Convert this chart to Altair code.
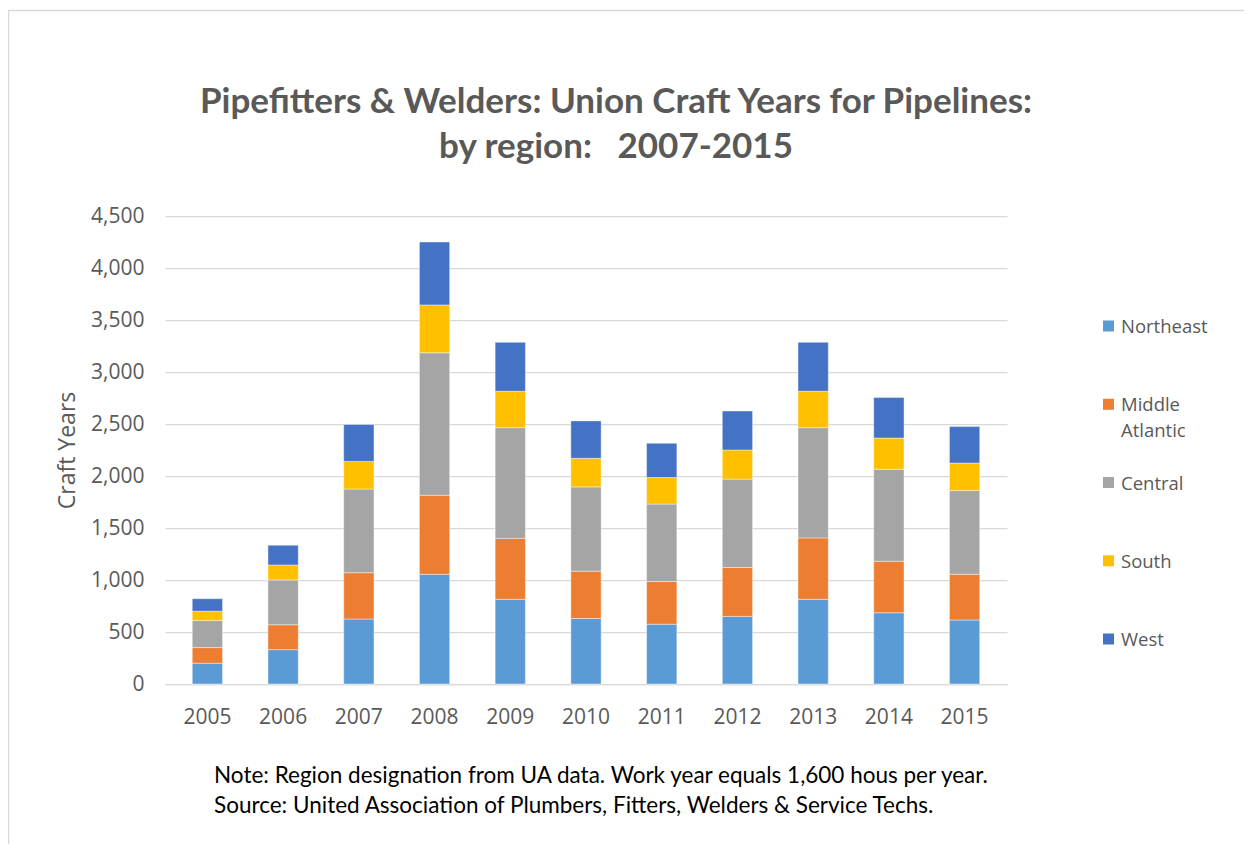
import altair as alt
import pandas as pd

years = [2005, 2006, 2007, 2008, 2009, 2010, 2011, 2012, 2013, 2014, 2015]
regions = ["Northeast", "Middle Atlantic", "Central", "South", "West"]
legend_labels = ["Northeast", "Middle\nAtlantic", "Central", "South", "West"]
colors = ["#5B9BD5", "#ED7D31", "#A5A5A5", "#FFC000", "#4472C4"]

northeast = [200, 330, 625, 1055, 815, 630, 575, 650, 815, 685, 615]
middle_atlantic = [150, 240, 445, 760, 585, 455, 410, 470, 590, 495, 440]
central = [260, 430, 805, 1370, 1065, 810, 745, 850, 1060, 885, 805]
south = [90, 145, 265, 460, 350, 275, 255, 280, 350, 300, 265]
west = [120, 190, 355, 605, 470, 360, 330, 375, 470, 390, 350]

y_ticks = [0, 500, 1000, 1500, 2000, 2500, 3000, 3500, 4000, 4500]

title_lines = ["Pipefitters & Welders: Union Craft Years for Pipelines:",
               "by region:\u00a0\u00a0\u00a02007-2015"]
note_lines = ["Note: Region designation from UA data. Work year equals 1,600 hous per year.",
              "Source: United Association of Plumbers, Fitters, Welders & Service Techs."]

series = {
    "Northeast": northeast,
    "Middle Atlantic": middle_atlantic,
    "Central": central,
    "South": south,
    "West": west,
}
rows = []
for i, r in enumerate(regions):
    for yr, v in zip(years, series[r]):
        rows.append({"year": str(yr), "region": r, "order": i, "value": v})
df = pd.DataFrame(rows)
legend_df = pd.DataFrame({"region": regions, "label": legend_labels})

AXIS_FONT = "Open Sans"
GREY = "#595959"
color_scale = alt.Scale(domain=regions, range=colors)

bars = alt.Chart(df).mark_bar(stroke="white", strokeWidth=0.6, strokeOpacity=0.7).encode(
    x=alt.X(
        "year:N",
        title=None,
        sort=[str(y) for y in years],
        scale=alt.Scale(paddingInner=0.6, paddingOuter=0.36),
        axis=alt.Axis(labelAngle=0, labelFont=AXIS_FONT, labelFontSize=21, labelColor=GREY,
                      labelPadding=22, ticks=False, domainColor="#d9d9d9", domainWidth=1.25,
                      grid=False),
    ),
    y=alt.Y(
        "value:Q",
        stack="zero",
        title="Craft Years",
        scale=alt.Scale(domain=[0, 4500], nice=False),
        axis=alt.Axis(values=y_ticks, format=",.0f", labelFont=AXIS_FONT, labelFontSize=21,
                      labelColor=GREY, labelPadding=21, ticks=False, domain=False,
                      gridColor="#d9d9d9", gridWidth=1.25, titleFont=AXIS_FONT,
                      titleFontSize=23, titleFontWeight="normal", titleColor=GREY,
                      titlePadding=11),
    ),
    color=alt.Color("region:N", scale=color_scale, legend=None),
    order=alt.Order("order:Q", sort="ascending"),
)

legend_y = alt.Y("region:N", sort=regions, axis=None,
                 scale=alt.Scale(domain=regions, range=[110, 423], padding=0))

legend_sw = alt.Chart(legend_df).mark_square(size=121, opacity=1).encode(
    x=alt.value(943.5),
    y=legend_y,
    color=alt.Color("region:N", scale=color_scale, legend=None),
)

legend_tx = alt.Chart(legend_df).mark_text(
    align="left", baseline="top", dy=-8, font=AXIS_FONT, fontSize=18.5,
    color=GREY, lineBreak="\n", lineHeight=26
).encode(
    x=alt.value(956),
    y=legend_y,
    text="label:N",
)

legend = alt.layer(legend_sw, legend_tx)

frame = alt.Chart(alt.Data(values=[{}])).mark_rect(
    fillOpacity=0, stroke="#d9d9d9", strokeWidth=1.5
).encode(
    x=alt.value(-156.5), x2=alt.value(1200), y=alt.value(-205.5), y2=alt.value(700)
)

title = alt.Chart(alt.Data(values=[{}])).mark_text(
    text=title_lines, align="center", baseline="top", font="Lato", fontSize=35,
    fontWeight="bold", lineHeight=45, color=GREY
).encode(x=alt.value(451), y=alt.value(-131))

note = alt.Chart(alt.Data(values=[{}])).mark_text(
    text=note_lines, align="left", baseline="top", font="Lato", fontSize=22.5,
    lineHeight=30, color="black"
).encode(x=alt.value(49), y=alt.value(549))

chart = alt.layer(frame, title, bars, note, legend).resolve_scale(
    y="independent"
).properties(
    width=842,
    height=468,
    padding={"left": 157, "top": 208, "right": 237, "bottom": 160},
    autosize=alt.AutoSizeParams(type="none"),
).configure_view(stroke="transparent")

chart.save("out.html", embed_options={"renderer": "svg", "actions": False})
